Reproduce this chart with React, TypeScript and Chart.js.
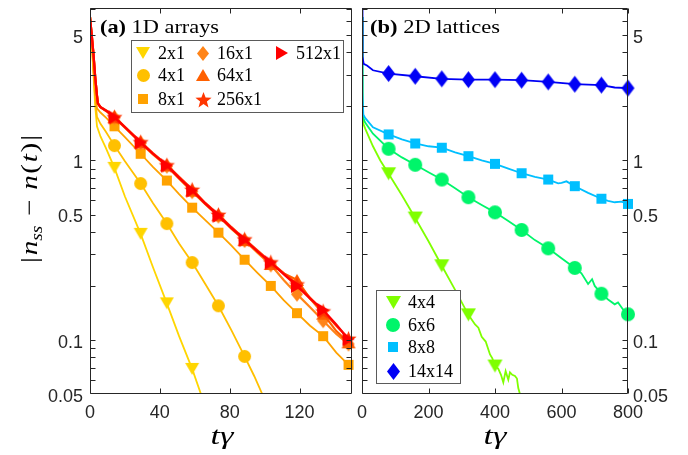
import React, { useEffect, useRef } from 'react';
import { Chart, registerables } from 'chart.js';
Chart.register(...registerables);

// ---------------- axes ----------------
const Y_MIN = 0.05;
const Y_MAX = 7.07;
const Y_MINOR_TICKS = [0.05, 0.06, 0.07, 0.08, 0.09, 0.1, 0.2, 0.3, 0.4, 0.5, 0.6, 0.7, 0.8, 0.9, 1, 2, 3, 4, 5, 6, 7];
const Y_TICK_LABELS = [0.05, 0.1, 0.5, 1, 5];
const X_TICKS_1D = [0, 40, 80, 120];
const X_MAX_1D = 150;
const X_TICKS_2D = [0, 200, 400, 600, 800];
const X_MAX_2D = 800;

// ---------------- panel (a): 1D arrays ----------------
const LABELS_1D = ['2x1', '4x1', '8x1', '16x1', '64x1', '256x1', '512x1'];
const COLORS_1D = ['#FFD600', '#FFC000', '#FFA200', '#FF8418', '#FF6000', '#FF3600', '#FF0000'];

const T_2x1 = [0, 1, 2, 3, 4, 6, 9, 14, 20, 29, 36, 44, 51, 58.5, 63.5];
const V_2x1 = [6.3, 4.5, 3.0, 2.0, 1.55, 1.36, 1.18, 0.91, 0.63, 0.39, 0.255, 0.16, 0.105, 0.069, 0.05];
const MT_2x1 = [14, 29, 44, 58.5];
const MV_2x1 = [0.91, 0.39, 0.16, 0.069];

const T_4x1 = [0, 1, 2, 3, 4, 6, 9, 14, 20, 29, 36, 44, 51, 58.5, 66, 73.5, 81, 88.5, 94, 98.6];
const V_4x1 = [6.3, 4.6, 3.15, 2.2, 1.75, 1.6, 1.45, 1.21, 0.99, 0.744, 0.58, 0.445, 0.345, 0.27, 0.205, 0.155, 0.113, 0.081, 0.063, 0.05];
const MT_4x1 = [14, 29, 44, 58.5, 73.5, 88.5];
const MV_4x1 = [1.21, 0.744, 0.445, 0.27, 0.155, 0.081];

const T_8x1 = [0, 1, 2, 3, 4, 6, 9, 14, 20, 29, 36, 44, 51, 58.5, 66, 73.5, 81, 88.5, 96, 103.5, 111, 118.5, 126, 133.5, 141, 148, 150];
const V_8x1 = [6.3, 4.7, 3.3, 2.35, 1.95, 1.85, 1.74, 1.55, 1.35, 1.09, 0.92, 0.773, 0.65, 0.546, 0.465, 0.396, 0.335, 0.28, 0.236, 0.2, 0.166, 0.141, 0.12, 0.105, 0.085, 0.0727, 0.07];
const MT_1D = [14, 29, 44, 58.5, 73.5, 88.5, 103.5, 118.5, 133.5, 148];
const MV_8x1 = [1.55, 1.09, 0.773, 0.546, 0.396, 0.28, 0.2, 0.141, 0.105, 0.0727];

const T_RED = [0, 1, 2, 3, 4, 4.5, 6, 10, 14, 20, 29, 36, 44, 51, 58.5, 66, 73.5, 81, 88.5, 96, 103.5, 111, 118.5, 126, 133.5, 141, 148, 150];
const V_16x1 = [6.3, 5.0, 3.9, 2.9, 2.3, 2.08, 1.98, 1.86, 1.73, 1.52, 1.25, 1.08, 0.93, 0.79, 0.67, 0.57, 0.49, 0.415, 0.358, 0.305, 0.262, 0.215, 0.18, 0.152, 0.128, 0.108, 0.095, 0.093];
const V_64x1 = [6.3, 5.0, 3.9, 2.9, 2.3, 2.08, 1.98, 1.87, 1.74, 1.53, 1.26, 1.09, 0.94, 0.8, 0.68, 0.575, 0.495, 0.42, 0.36, 0.31, 0.265, 0.235, 0.216, 0.17, 0.14, 0.112, 0.097, 0.095];
const V_256x1 = [6.3, 5.0, 3.9, 2.9, 2.3, 2.08, 1.99, 1.88, 1.75, 1.54, 1.27, 1.1, 0.945, 0.81, 0.69, 0.58, 0.5, 0.425, 0.365, 0.315, 0.272, 0.235, 0.205, 0.172, 0.145, 0.12, 0.102, 0.099];
const V_512x1 = [6.3, 5.0, 3.9, 2.9, 2.3, 2.08, 1.98, 1.87, 1.74, 1.53, 1.26, 1.09, 0.938, 0.8, 0.68, 0.575, 0.493, 0.42, 0.362, 0.31, 0.27, 0.232, 0.2, 0.17, 0.147, 0.122, 0.101, 0.098];
const MV_16x1 = [1.73, 1.25, 0.93, 0.67, 0.49, 0.358, 0.262, 0.18, 0.128, 0.095];
const MV_64x1 = [1.74, 1.26, 0.94, 0.68, 0.495, 0.36, 0.265, 0.216, 0.14, 0.097];
const MV_256x1 = [1.75, 1.27, 0.945, 0.69, 0.5, 0.365, 0.272, 0.205, 0.145, 0.102];
const MV_512x1 = [1.74, 1.26, 0.938, 0.68, 0.493, 0.362, 0.27, 0.2, 0.147, 0.101];

// ---------------- panel (b): 2D lattices ----------------
const LABELS_2D = ['4x4', '6x6', '8x8', '14x14'];
const COLORS_2D = ['#7FFF00', '#00F56A', '#00BFFF', '#0000F5'];
const MT_2D = [80, 160, 240, 320, 400, 480, 560, 640, 720, 800];

const T_4x4 = [0, 1, 2, 4, 10, 33, 55, 80, 120, 160, 200, 240, 280, 320, 340, 350, 360, 372, 385, 392, 400, 410, 418, 425, 432, 440, 445, 452, 460, 466, 470, 475];
const V_4x4 = [6.3, 3.5, 2.1, 1.6, 1.5, 1.2, 1.0, 0.843, 0.64, 0.478, 0.355, 0.259, 0.19, 0.138, 0.122, 0.117, 0.104, 0.098, 0.083, 0.079, 0.0716, 0.069, 0.064, 0.058, 0.067, 0.06, 0.066, 0.064, 0.063, 0.061, 0.054, 0.05];
const MT_4x4 = [80, 160, 240, 320, 400];
const MV_4x4 = [0.843, 0.478, 0.259, 0.138, 0.0716];

const T_6x6 = [0, 1, 2, 4, 9, 33, 80, 120, 160, 200, 240, 280, 320, 360, 400, 440, 480, 520, 560, 600, 640, 660, 680, 692, 700, 720, 740, 760, 770, 785, 800];
const V_6x6 = [6.3, 3.6, 2.2, 1.72, 1.63, 1.41, 1.162, 1.04, 0.946, 0.86, 0.783, 0.7, 0.624, 0.565, 0.514, 0.46, 0.41, 0.36, 0.324, 0.285, 0.252, 0.235, 0.205, 0.218, 0.2, 0.181, 0.168, 0.158, 0.162, 0.148, 0.139];
const MV_6x6 = [1.162, 0.946, 0.783, 0.624, 0.514, 0.41, 0.324, 0.252, 0.181, 0.139];

const T_8x8 = [0, 1, 2, 4, 10, 33, 80, 120, 160, 200, 240, 280, 320, 360, 400, 440, 480, 520, 560, 590, 600, 615, 640, 680, 720, 740, 760, 780, 800];
const V_8x8 = [6.3, 3.8, 2.4, 1.8, 1.72, 1.53, 1.397, 1.31, 1.244, 1.2, 1.178, 1.11, 1.057, 1.0, 0.958, 0.9, 0.849, 0.81, 0.783, 0.745, 0.75, 0.765, 0.719, 0.66, 0.612, 0.595, 0.585, 0.59, 0.573];
const MV_8x8 = [1.397, 1.244, 1.178, 1.057, 0.958, 0.849, 0.783, 0.719, 0.612, 0.573];

const T_14x14 = [0, 1, 2, 5, 15, 33, 80, 160, 240, 320, 400, 480, 560, 640, 720, 760, 800];
const V_14x14 = [7.5, 5.0, 3.8, 3.45, 3.38, 3.18, 3.05, 2.945, 2.85, 2.82, 2.82, 2.8, 2.74, 2.66, 2.63, 2.55, 2.53];
const MV_14x14 = [3.05, 2.945, 2.85, 2.82, 2.82, 2.8, 2.74, 2.66, 2.63, 2.53];

// ---------------- helpers ----------------
type Shape = 'tridown' | 'circle' | 'square' | 'diamond' | 'triup' | 'star' | 'triright';

function makeMarker(shape: Shape, color: string, w: number, h: number): HTMLCanvasElement {
  const pad = 1;
  const c = document.createElement('canvas');
  const W = Math.ceil(w) + 2 * pad;
  const H = Math.ceil(h) + 2 * pad;
  c.width = W;
  c.height = H;
  const g = c.getContext('2d')!;
  const cx = W / 2, cy = H / 2;
  g.fillStyle = color;
  g.beginPath();
  if (shape === 'circle') g.arc(cx, cy, w / 2, 0, Math.PI * 2);
  else if (shape === 'square') g.rect(cx - w / 2, cy - h / 2, w, h);
  else if (shape === 'tridown') { g.moveTo(cx - w / 2, cy - h / 2); g.lineTo(cx + w / 2, cy - h / 2); g.lineTo(cx, cy + h / 2); }
  else if (shape === 'triup') { g.moveTo(cx - w / 2, cy + h / 2); g.lineTo(cx + w / 2, cy + h / 2); g.lineTo(cx, cy - h / 2); }
  else if (shape === 'triright') { g.moveTo(cx - w / 2, cy - h / 2); g.lineTo(cx + w / 2, cy); g.lineTo(cx - w / 2, cy + h / 2); }
  else if (shape === 'diamond') { g.moveTo(cx, cy - h / 2); g.lineTo(cx + w / 2, cy); g.lineTo(cx, cy + h / 2); g.lineTo(cx - w / 2, cy); }
  else if (shape === 'star') {
    const R = w / 2, r = R * 0.42;
    for (let k = 0; k < 10; k++) {
      const ang = -Math.PI / 2 + (k * Math.PI) / 5;
      const rr = k % 2 === 0 ? R : r;
      const px = cx + rr * Math.cos(ang), py = cy + 1 + rr * Math.sin(ang);
      if (k === 0) g.moveTo(px, py); else g.lineTo(px, py);
    }
  }
  g.closePath();
  g.fill();
  return c;
}

type Span = { text: string; font: string; dy?: number; gap?: number };
function drawRich(ctx: CanvasRenderingContext2D, spans: Span[], x: number, y: number, targetWidth?: number, align: 'left' | 'center' = 'left') {
  ctx.save();
  let total = 0;
  const widths = spans.map((s) => { ctx.font = s.font; const w = ctx.measureText(s.text).width + (s.gap || 0); total += w; return w; });
  const sc = targetWidth ? targetWidth / total : 1;
  const x0 = align === 'center' ? x - (total * sc) / 2 : x;
  ctx.translate(x0, y);
  ctx.scale(sc, 1);
  ctx.textBaseline = 'alphabetic';
  ctx.textAlign = 'left';
  ctx.fillStyle = '#000';
  let cx = 0;
  spans.forEach((s, i) => { ctx.font = s.font; ctx.fillText(s.text, cx + (s.gap || 0), s.dy || 0); cx += widths[i]; });
  ctx.restore();
}

const SERIF = '"Liberation Serif", "Times New Roman", serif';
const SANS = '"Liberation Sans", Arial, sans-serif';
const AX = '#262626';

type Series = { label: string; color: string; img: HTMLCanvasElement; t: number[]; v: number[]; mt: number[]; mv: number[]; lw: number };
type LegendItem = { label: string; img: HTMLCanvasElement; mx: number; my: number; tx: number };

function buildDatasets(series: Series[]) {
  const ds: any[] = [];
  series.forEach((s, i) => {
    ds.push({
      label: s.label + ' line', data: s.t.map((t, k) => ({ x: t, y: s.v[k] })),
      showLine: true, borderColor: s.color, borderWidth: s.lw, pointRadius: 0, fill: false, tension: 0, order: 100 - 2 * i,
    });
    ds.push({
      label: s.label, data: s.mt.map((t, k) => ({ x: t, y: s.mv[k] })),
      showLine: false, pointStyle: s.img, pointRadius: 6, backgroundColor: s.color, borderWidth: 0, order: 99 - 2 * i, clip: false,
    });
  });
  return ds;
}

function framePlugin(xTicks: number[]) {
  return {
    id: 'frame',
    afterDatasetsDraw(chart: any) {
      const { ctx, chartArea: a } = chart;
      const xs = chart.scales.x, ys = chart.scales.y;
      const L = Math.round(a.left) + 0.5, R = Math.round(a.right) - 0.5, T = Math.round(a.top) + 0.5, B = Math.round(a.bottom) - 0.5;
      ctx.save();
      ctx.strokeStyle = AX;
      ctx.lineWidth = 1;
      ctx.beginPath();
      ctx.rect(L, T, R - L, B - T);
      for (const v of Y_MINOR_TICKS) {
        const p = Math.round(ys.getPixelForValue(v)) + 0.5;
        if (p < a.top || p > a.bottom) continue;
        ctx.moveTo(L, p); ctx.lineTo(L + 5, p);
        ctx.moveTo(R, p); ctx.lineTo(R - 5, p);
      }
      for (const v of xTicks) {
        const p = Math.round(xs.getPixelForValue(v)) + 0.5;
        ctx.moveTo(p, B); ctx.lineTo(p, B - 5);
        ctx.moveTo(p, T); ctx.lineTo(p, T + 5);
      }
      ctx.stroke();
      ctx.restore();
    },
  };
}

function drawLegend(ctx: CanvasRenderingContext2D, box: { x: number; y: number; w: number; h: number }, items: LegendItem[]) {
  ctx.save();
  ctx.fillStyle = '#fff';
  ctx.fillRect(box.x, box.y, box.w, box.h);
  ctx.strokeStyle = '#5a5a5a';
  ctx.lineWidth = 1;
  ctx.strokeRect(box.x + 0.5, box.y + 0.5, box.w, box.h);
  items.forEach((it) => {
    ctx.drawImage(it.img, Math.round(it.mx - it.img.width / 2), Math.round(it.my - it.img.height / 2));
    ctx.fillStyle = '#000';
    ctx.font = `18px ${SERIF}`;
    ctx.textBaseline = 'middle';
    ctx.textAlign = 'left';
    ctx.fillText(it.label, it.tx, it.my + 1);
  });
  ctx.restore();
}

function zeroPad(s: any) {
  s.paddingLeft = 0; s.paddingRight = 0; s.paddingTop = 0; s.paddingBottom = 0;
}

function makeConfig(series: Series[], xMax: number, xTicks: number[], yPos: 'left' | 'right', yWidth: number, padding: any, deco: any) {
  return {
    type: 'scatter' as const,
    data: { datasets: buildDatasets(series) },
    plugins: [framePlugin(xTicks), deco],
    options: {
      responsive: false,
      animation: false as const,
      devicePixelRatio: 1,
      events: [],
      layout: { padding },
      plugins: { legend: { display: false }, tooltip: { enabled: false } },
      scales: {
        x: {
          type: 'linear', min: 0, max: xMax,
          afterBuildTicks: (s: any) => { s.ticks = xTicks.map((v) => ({ value: v })); },
          afterFit: (s: any) => { s.height = 61; zeroPad(s); },
          grid: { display: false, drawTicks: false },
          border: { display: false },
          ticks: { color: AX, font: { family: SANS, size: 18 }, padding: 8, maxRotation: 0, autoSkip: false, callback: (v: any) => String(v) },
        },
        y: {
          type: 'logarithmic', min: Y_MIN, max: Y_MAX, position: yPos,
          afterBuildTicks: (s: any) => { s.ticks = Y_TICK_LABELS.map((v) => ({ value: v })); },
          afterFit: (s: any) => { s.width = yWidth; zeroPad(s); },
          grid: { display: false, drawTicks: false },
          border: { display: false },
          ticks: { color: AX, font: { family: SANS, size: 18 }, padding: yPos === 'left' ? 7 : 5, labelOffset: 3, autoSkip: false, callback: (v: any) => String(v) },
        },
      },
    },
  };
}

export default function App() {
  const refA = useRef<HTMLCanvasElement>(null);
  const refB = useRef<HTMLCanvasElement>(null);

  useEffect(() => {
    const shapes1D: [Shape, number, number][] = [['tridown', 14, 12], ['circle', 13, 13], ['square', 10, 10], ['diamond', 12, 15], ['triup', 14, 12], ['star', 17, 17], ['triright', 12, 14]];
    const imgs1D = shapes1D.map((s, i) => makeMarker(s[0], COLORS_1D[i], s[1], s[2]));
    const lines1D = [[T_2x1, V_2x1, MT_2x1, MV_2x1], [T_4x1, V_4x1, MT_4x1, MV_4x1], [T_8x1, V_8x1, MT_1D, MV_8x1],
      [T_RED, V_16x1, MT_1D, MV_16x1], [T_RED, V_64x1, MT_1D, MV_64x1], [T_RED, V_256x1, MT_1D, MV_256x1], [T_RED, V_512x1, MT_1D, MV_512x1]];
    const series1D: Series[] = LABELS_1D.map((label, i) => ({
      label, color: COLORS_1D[i], img: imgs1D[i], t: lines1D[i][0], v: lines1D[i][1], mt: lines1D[i][2], mv: lines1D[i][3], lw: i >= 3 ? 2.2 : 1.8,
    }));

    const shapes2D: [Shape, number, number][] = [['tridown', 15, 13], ['circle', 14, 14], ['square', 10, 10], ['diamond', 13, 17]];
    const imgs2D = shapes2D.map((s, i) => makeMarker(s[0], COLORS_2D[i], s[1], s[2]));
    const lines2D = [[T_4x4, V_4x4, MT_4x4, MV_4x4], [T_6x6, V_6x6, MT_2D, MV_6x6], [T_8x8, V_8x8, MT_2D, MV_8x8], [T_14x14, V_14x14, MT_2D, MV_14x14]];
    const series2D: Series[] = LABELS_2D.map((label, i) => ({
      label, color: COLORS_2D[i], img: imgs2D[i], t: lines2D[i][0], v: lines2D[i][1], mt: lines2D[i][2], mv: lines2D[i][3], lw: 1.8,
    }));

    const colX1 = [143, 203, 282], colT1 = [158, 217, 296], rowY1 = [53, 75, 99];
    const legend1: LegendItem[] = series1D.map((s, i) => {
      const c = Math.floor(i / 3), r = i % 3;
      return { label: s.label, img: s.img, mx: colX1[c], my: rowY1[r], tx: colT1[c] };
    });
    const rowY2 = [302, 325, 347, 371];
    const legend2: LegendItem[] = series2D.map((s, i) => ({ label: s.label, img: s.img, mx: 47, my: rowY2[i], tx: 62 }));

    const decoA = {
      id: 'decoA',
      afterDraw(chart: any) {
        const ctx = chart.ctx as CanvasRenderingContext2D;
        drawRich(ctx, [{ text: '(a)', font: `bold 19px ${SERIF}` }, { text: ' 1D arrays', font: `19px ${SERIF}` }], 100, 33, 119);
        // y axis title
        ctx.save();
        ctx.translate(30, 199);
        ctx.rotate(-Math.PI / 2);
        drawRich(ctx, [
          { text: '|', font: `24px ${SERIF}` },
          { text: 'n', font: `italic 24px ${SERIF}`, gap: 1.5 },
          { text: 'ss', font: `italic 16px ${SERIF}`, dy: 5 },
          { text: '\u2212', font: `24px ${SERIF}`, gap: 8 },
          { text: 'n', font: `italic 24px ${SERIF}`, gap: 8 },
          { text: '(', font: `24px ${SERIF}`, gap: 1 },
          { text: 't', font: `italic 24px ${SERIF}`, gap: 1.5 },
          { text: ')', font: `24px ${SERIF}`, gap: 1.5 },
          { text: '|', font: `24px ${SERIF}`, gap: 1.5 },
        ], 0, 6.5, 128, 'center');
        ctx.restore();
        drawRich(ctx, [{ text: 't\u03B3', font: `italic 26px ${SERIF}` }], 222, 444, 23, 'center');
        drawLegend(ctx, { x: 131, y: 40, w: 212, h: 72 }, legend1);
      },
    };
    const decoB = {
      id: 'decoB',
      afterDraw(chart: any) {
        const ctx = chart.ctx as CanvasRenderingContext2D;
        drawRich(ctx, [{ text: '(b)', font: `bold 19px ${SERIF}` }, { text: ' 2D lattices', font: `19px ${SERIF}` }], 24, 33, 130);
        drawRich(ctx, [{ text: 't\u03B3', font: `italic 26px ${SERIF}` }], 149, 444, 23, 'center');
        drawLegend(ctx, { x: 30, y: 290, w: 84, h: 93 }, legend2);
      },
    };

    const a = new Chart(refA.current!, makeConfig(series1D, X_MAX_1D, X_TICKS_1D, 'left', 90, { left: 0, right: 2, top: 8, bottom: 0 }, decoA) as any);
    const b = new Chart(refB.current!, makeConfig(series2D, X_MAX_2D, X_TICKS_2D, 'right', 60, { left: 16, right: 0, top: 8, bottom: 0 }, decoB) as any);
    return () => { a.destroy(); b.destroy(); };
  }, []);

  return (
    <div style={{ position: 'fixed', left: 0, top: 0, width: 688, height: 455, background: '#fff', overflow: 'hidden' }}>
      <canvas ref={refA} width={358} height={455} style={{ position: 'absolute', left: 0, top: 0, width: 358, height: 455 }} />
      <canvas ref={refB} width={342} height={455} style={{ position: 'absolute', left: 346, top: 0, width: 342, height: 455 }} />
    </div>
  );
}
